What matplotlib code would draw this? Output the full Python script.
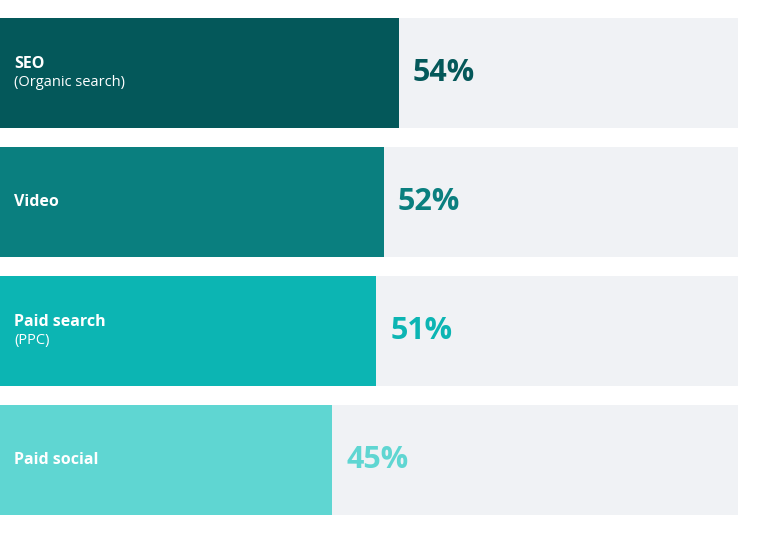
import matplotlib
matplotlib.use("Agg")
import matplotlib.pyplot as plt

labels = ["SEO", "Video", "Paid search", "Paid social"]
sublabels = ["(Organic search)", "", "(PPC)", ""]
values = [54, 52, 51, 45]
colors = ["#04585a", "#0a7f7f", "#0cb5b3", "#5fd6d2"]
bg = "#f0f2f5"

fig = plt.figure(figsize=(7.59, 5.34), dpi=100)
ax = fig.add_axes([0, 19/534, 738/759, 497/534])
ax.set_xlim(0, 100)
ax.set_ylim(3.5 + 0.5*110/129 - 0.0, -0.5*110/129)
ax.set_ylim(3 + 55/129, -55/129)
ax.axis("off")
h = 110/129
for i, (lab, sub, v, c) in enumerate(zip(labels, sublabels, values, colors)):
    ax.barh(i, 100, height=h, color=bg, left=0)
    ax.barh(i, v, height=h, color=c)
    if sub:
        ax.text(1.9, i - 0.07, lab, color="white", fontsize=11.5, fontweight="bold", va="center", family="Montserrat" if False else "Open Sans")
        ax.text(1.9, i + 0.07, sub, color="white", fontsize=10.5, va="center", family="Open Sans")
    else:
        ax.text(1.9, i, lab, color="white", fontsize=11.5, fontweight="bold", va="center", family="Open Sans")
    ax.text(v + 1.9, i, f"{v}%", color=c, fontsize=22, fontweight="bold", va="center", family="Open Sans")

fig.savefig("out.png", dpi=100, facecolor="white")
